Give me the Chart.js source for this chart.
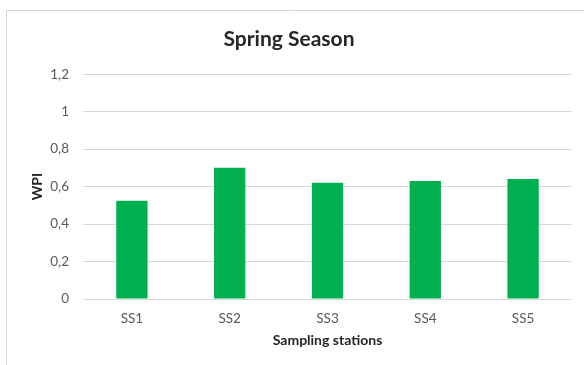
<!DOCTYPE html>
<html>
<head>
<meta charset="utf-8">
<script src="https://cdn.jsdelivr.net/npm/chart.js@4"></script>
<style>
  html, body { margin: 0; padding: 0; background: #ffffff; }
  #wrap { width: 584px; height: 365px; position: relative; }
</style>
</head>
<body>
<div id="wrap"><canvas id="c" width="584" height="365"></canvas></div>
<script>
// Water pollution index per sampling station, spring season
const stations = ['SS1', 'SS2', 'SS3', 'SS4', 'SS5'];
const wpiValues = [0.525, 0.70, 0.62, 0.63, 0.64];
const yTicks = [0, 0.2, 0.4, 0.6, 0.8, 1, 1.2];

const FONT = 'Lato, "Open Sans", sans-serif';

// thin frame around the chart box (left and top edges visible)
const framePlugin = {
  id: 'frame',
  beforeDraw(chart) {
    const ctx = chart.ctx;
    ctx.save();
    ctx.strokeStyle = '#d9d9d9';
    ctx.lineWidth = 1;
    ctx.beginPath();
    ctx.moveTo(6.5, 365);
    ctx.lineTo(6.5, 10.5);
    ctx.lineTo(584, 10.5);
    ctx.stroke();
    ctx.restore();
  }
};

new Chart(document.getElementById('c'), {
  type: 'bar',
  data: {
    labels: stations,
    datasets: [{
      label: 'WPI',
      data: wpiValues,
      backgroundColor: '#00b050',
      borderWidth: 0,
      categoryPercentage: 1,
      barPercentage: 0.32
    }]
  },
  options: {
    responsive: false,
    animation: false,
    layout: { padding: { left: 6, top: 10, right: 12, bottom: 0 } },
    plugins: {
      legend: { display: false },
      tooltip: { enabled: false },
      title: {
        display: true,
        text: 'Spring Season',
        color: '#262626',
        font: { family: FONT, size: 21, weight: 'bold' },
        padding: { top: 17, bottom: 22 }
      }
    },
    scales: {
      x: {
        grid: { display: false, drawTicks: false },
        border: { display: false },
        ticks: {
          color: '#595959',
          font: { family: FONT, size: 13.5 },
          padding: 12
        },
        title: {
          display: true,
          text: 'Sampling stations',
          color: '#262626',
          font: { family: FONT, size: 14, weight: 'bold' },
          padding: { top: 0, bottom: 16 }
        },
        afterFit(scale) { scale.height = 66; }
      },
      y: {
        min: 0,
        max: 1.2,
        afterBuildTicks(scale) { scale.ticks = yTicks.map(v => ({ value: v })); },
        grid: { color: '#d9d9d9', lineWidth: 1, drawTicks: false },
        border: { display: false },
        ticks: {
          color: '#595959',
          font: { family: FONT, size: 13.5 },
          padding: 14,
          callback: v => String(v).replace('.', ',')
        },
        title: {
          display: true,
          text: 'WPI',
          color: '#262626',
          font: { family: FONT, size: 14, weight: 'bold' },
          padding: { top: 23, bottom: 0 }
        },
        afterFit(scale) { scale.width = 77; }
      }
    }
  },
  plugins: [framePlugin]
});
</script>
</body>
</html>
